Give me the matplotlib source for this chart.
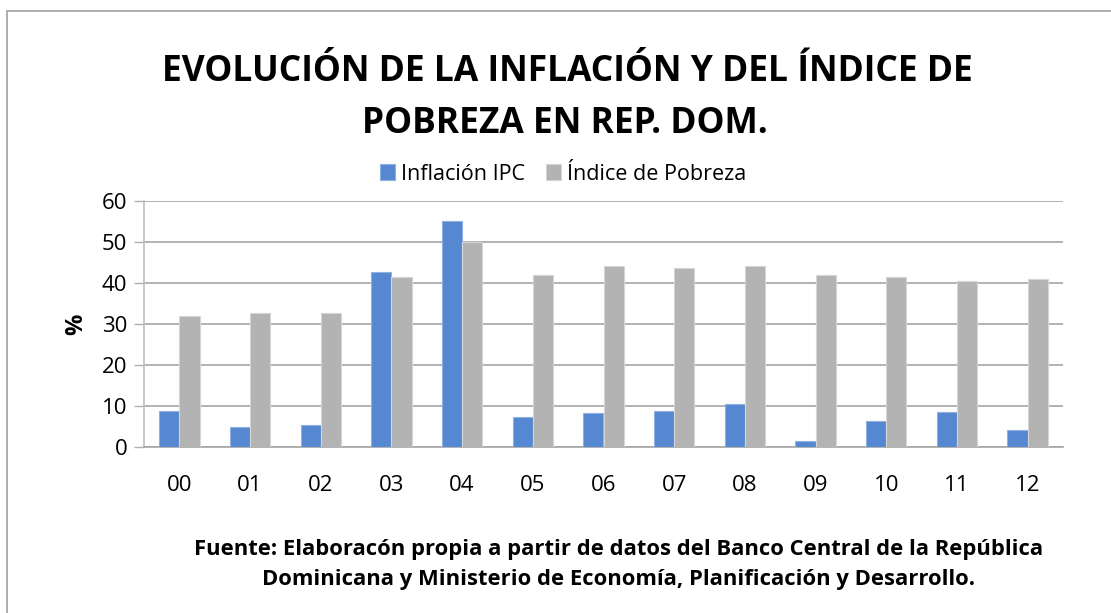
import numpy as np
import matplotlib
matplotlib.use("Agg")
import matplotlib.pyplot as plt
from matplotlib.patches import Rectangle

## Data
years = ["00", "01", "02", "03", "04", "05", "06", "07", "08", "09", "10", "11", "12"]
inflacion = [8.9, 5.0, 5.4, 42.7, 55.0, 7.4, 8.2, 8.9, 10.6, 1.5, 6.3, 8.5, 4.1]
pobreza = [31.9, 32.6, 32.6, 41.4, 50.0, 41.9, 44.1, 43.6, 44.1, 42.0, 41.5, 40.4, 40.9]

plt.rcParams['font.family'] = ['Open Sans', 'DejaVu Sans']

fig = plt.figure(figsize=(11.11, 6.13), dpi=100)
ax = fig.add_axes([144/1111, 1 - 447/613, (1063-144)/1111, (447-201)/613])

x = np.arange(len(years))
w = 1 / 3.5
ax.bar(x - w/2, inflacion, w, color='#5687d1', edgecolor='#8fb0e2', linewidth=0.8,
       label='Inflación IPC', zorder=3)
ax.bar(x + w/2, pobreza, w, color='#b3b3b3', edgecolor='#d6d6d6', linewidth=0.8,
       label='Índice de Pobreza', zorder=3)

ax.set_xlim(-0.5, len(years) - 0.5)
ax.set_ylim(0, 60)
ax.set_yticks(np.arange(0, 61, 10))
ax.set_xticks(x)
ax.set_xticklabels(years)
ax.tick_params(axis='y', labelsize=16, length=7, color='#b0b0b0', width=1, pad=5)
ax.tick_params(axis='x', labelsize=16, length=0, pad=20)
ax.yaxis.grid(True, color='#a6a6a6', linewidth=1.2, zorder=0)
for s in ['top', 'right']:
    ax.spines[s].set_visible(False)
ax.spines['left'].set_color('#bfbfbf')
ax.spines['left'].set_linewidth(1.2)
ax.spines['bottom'].set_color('#a6a6a6')
ax.spines['bottom'].set_linewidth(1.2)
ax.set_ylabel('%', fontsize=17, fontweight='bold', labelpad=10)

## Title, legend, source note
fig.text(567/1111, 1 - 72/613, 'EVOLUCIÓN DE LA INFLACIÓN Y DEL ÍNDICE DE', ha='center', va='center',
         fontsize=25.5, fontweight='bold')
fig.text(565/1111, 1 - 124/613, 'POBREZA EN REP. DOM.', ha='center', va='center',
         fontsize=25.5, fontweight='bold')
ax.legend(loc='center', bbox_to_anchor=(563/1111, 1 - 174/613), bbox_transform=fig.transFigure,
          ncol=2, frameon=False, fontsize=15.5, handlelength=0.7, handleheight=0.7,
          handletextpad=0.25, columnspacing=1.0)
fig.text(619/1111, 1 - 550/613, 'Fuente: Elaboracón propia a partir de datos del Banco Central de la República',
         ha='center', va='center', fontsize=15.8, fontweight='bold')
fig.text(619/1111, 1 - 580/613, 'Dominicana y Ministerio de Economía, Planificación y Desarrollo.',
         ha='center', va='center', fontsize=15.8, fontweight='bold')

## Outer chart border
fig.patches.append(Rectangle((7/1111, -0.05), 1.1, 1 - 11/613 + 0.05, transform=fig.transFigure,
                             fill=False, edgecolor='#a0a0a0', linewidth=1.2))

fig.savefig('out.png', dpi=100)
